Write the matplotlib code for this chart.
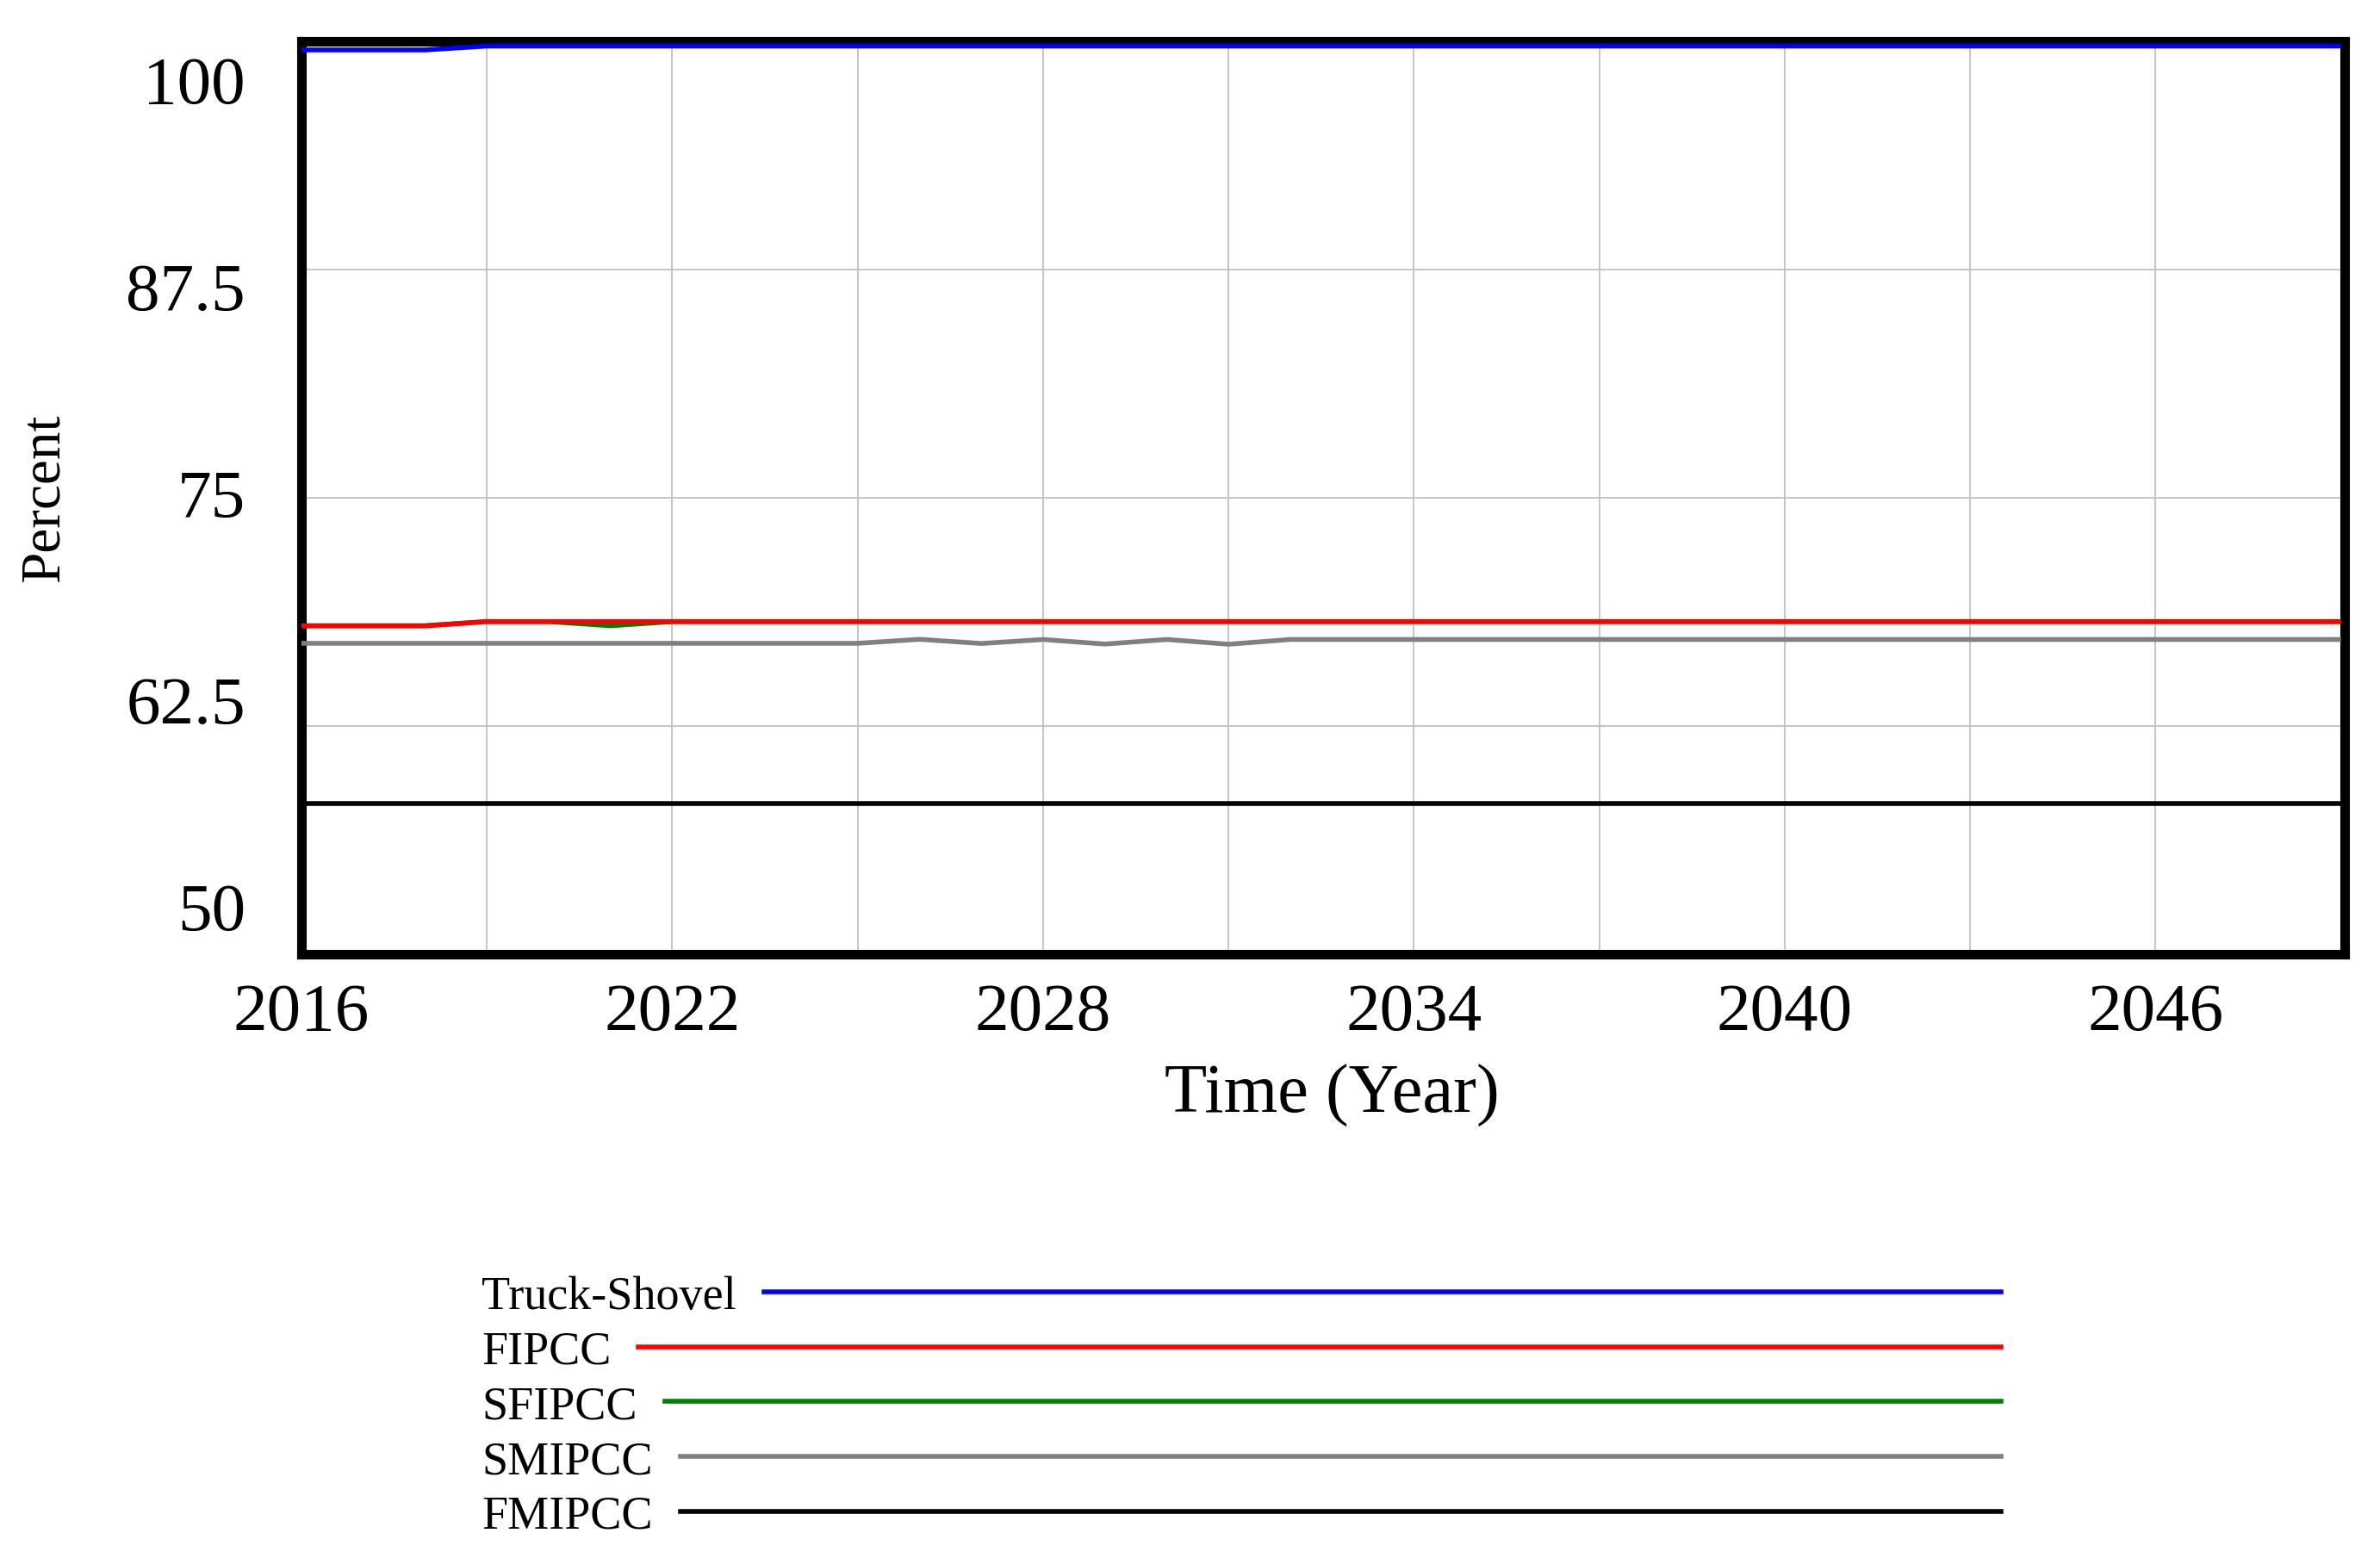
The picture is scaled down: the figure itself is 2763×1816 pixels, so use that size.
import matplotlib
matplotlib.use("Agg")
import matplotlib.pyplot as plt
from matplotlib.lines import Line2D
from matplotlib.transforms import blended_transform_factory

plt.rcParams['font.family'] = ['Liberation Serif', 'DejaVu Serif']

# yearly values, 2016 .. 2049
years = list(range(2016, 2050))

truck_shovel = [99.53, 99.53, 99.53, 99.74, 99.74, 99.74, 99.74, 99.74, 99.74, 99.74,
                99.74, 99.74, 99.74, 99.74, 99.74, 99.74, 99.74, 99.74, 99.74, 99.74,
                99.74, 99.74, 99.74, 99.74, 99.74, 99.74, 99.74, 99.74, 99.74, 99.74,
                99.74, 99.74, 99.74, 99.74]
fipcc = [67.99, 67.99, 67.99, 68.22, 68.22, 68.22, 68.22, 68.22, 68.22, 68.22,
         68.22, 68.22, 68.22, 68.22, 68.22, 68.22, 68.22, 68.22, 68.22, 68.22,
         68.22, 68.22, 68.22, 68.22, 68.22, 68.22, 68.22, 68.22, 68.22, 68.22,
         68.22, 68.22, 68.22, 68.22]
sfipcc = [67.99, 67.99, 67.99, 68.22, 68.22, 67.99, 68.22, 68.22, 68.22, 68.22,
          68.22, 68.22, 68.22, 68.22, 68.22, 68.22, 68.22, 68.22, 68.22, 68.22,
          68.22, 68.22, 68.22, 68.22, 68.22, 68.22, 68.22, 68.22, 68.22, 68.22,
          68.22, 68.22, 68.22, 68.22]
smipcc = [67.03, 67.03, 67.03, 67.03, 67.03, 67.03, 67.03, 67.03, 67.03, 67.03,
          67.25, 67.02, 67.24, 66.99, 67.24, 66.98, 67.24, 67.24, 67.24, 67.24,
          67.24, 67.24, 67.24, 67.24, 67.24, 67.24, 67.24, 67.24, 67.24, 67.24,
          67.24, 67.24, 67.24, 67.24]
fmipcc = [58.25, 58.25, 58.25, 58.25, 58.25, 58.25, 58.25, 58.25, 58.25, 58.25,
          58.25, 58.25, 58.25, 58.25, 58.25, 58.25, 58.25, 58.25, 58.25, 58.25,
          58.25, 58.25, 58.25, 58.25, 58.25, 58.25, 58.25, 58.25, 58.25, 58.25,
          58.25, 58.25, 58.25, 58.25]

series_names = ["Truck-Shovel", "FIPCC", "SFIPCC", "SMIPCC", "FMIPCC"]
series_values = [truck_shovel, fipcc, sfipcc, smipcc, fmipcc]
series_colors = ["#0000ff", "#ff0000", "#008000", "#808080", "#000000"]

y_ticks = [50, 62.5, 75, 87.5, 100]
y_tick_labels = ["50", "62.5", "75", "87.5", "100"]
x_grid_years = list(range(2016, 2050, 3))
x_label_years = [2016, 2022, 2028, 2034, 2040, 2046]

W, H, DPI = 2763, 1816, 200
fig = plt.figure(figsize=(W / DPI, H / DPI), dpi=DPI)


def fx(px):
    return px / W


def fy(py):
    return 1 - py / H


ax = fig.add_axes([fx(350), fy(1108), fx(2722) - fx(350), fy(48) - fy(1108)])

# vensim draws the last variable first
for name, vals, col in reversed(list(zip(series_names, series_values, series_colors))):
    ax.plot(years, vals, color=col, lw=2.0, zorder=3, clip_on=False,
            solid_capstyle='butt')

ax.set_xlim(2016.08, 2049.06)
ax.set_ylim(50, 100)

ax.set_xticks(x_grid_years)
ax.set_xticklabels([str(y) if y in x_label_years else "" for y in x_grid_years],
                   fontsize=28.5)
ax.set_yticks(y_ticks)
ax.set_yticklabels([])
ax.tick_params(axis='both', length=0)
ax.tick_params(axis='x', pad=12)
ax.grid(True, color='#c0c0c0', lw=0.65, zorder=1)

for sp in ax.spines.values():
    sp.set_linewidth(4.0)
    sp.set_color('black')

# y labels sit a bit pulled in toward the middle, as in the original
trans = blended_transform_factory(ax.transAxes, ax.transData)
for v, lab in zip(y_ticks, y_tick_labels):
    ax.text(-0.0274, 75 + (v - 75) * 0.905 - 1.04, lab, transform=trans,
            ha='right', va='baseline', fontsize=28.5)

fig.text(fx(52), fy(578), "Percent", rotation=90, ha='center', va='center',
         fontsize=23.5)
fig.text(fx(1546), fy(1292), "Time (Year)", ha='center', va='baseline',
         fontsize=29)

# legend: label, then a line running to a common right end
legend_texts = []
for i, name in enumerate(series_names):
    line_y = 1500 + 63.7 * i
    t = fig.text(fx(559), fy(line_y + 20), name, ha='left', va='baseline',
                 fontsize=19.5)
    legend_texts.append((t, line_y))

fig.canvas.draw()
renderer = fig.canvas.get_renderer()
for (t, line_y), col in zip(legend_texts, series_colors):
    bb = t.get_window_extent(renderer)
    x0 = bb.x1 + 32
    fig.add_artist(Line2D([x0 / W, fx(2323)], [fy(line_y), fy(line_y)],
                          transform=fig.transFigure, color=col, lw=2.0))

fig.savefig("out.png", dpi=DPI)
